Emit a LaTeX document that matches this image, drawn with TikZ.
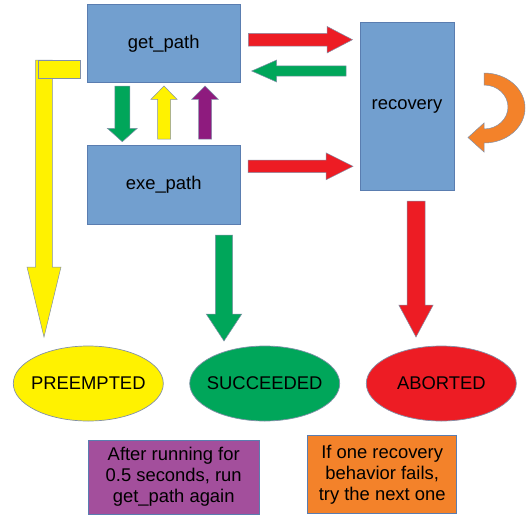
\documentclass[tikz,border=0pt]{standalone}
\usepackage{fontspec}
\setmainfont{Liberation Sans}
\usetikzlibrary{calc,shapes.geometric}

\definecolor{boxblue}{HTML}{729FCF}
\definecolor{boxedge}{HTML}{5A7DB0}
\definecolor{arrowedge}{HTML}{8290A8}
\definecolor{cred}{HTML}{ED1C24}
\definecolor{cgreen}{HTML}{00A65A}
\definecolor{cyellow}{HTML}{FFF200}
\definecolor{cpurple}{HTML}{A34F9C}
\definecolor{cmagenta}{HTML}{8E1B7E}
\definecolor{corange}{HTML}{F3822A}

% block arrow: style, tail point, tip point, shaft half width, head half width, head length
\newcommand\blockarrow[6]{%
  \coordinate (ba-n) at ($(#3)!#6!(#2)$);
  \path[#1] ($(#2)!#4!90:(#3)$) -- ($(ba-n)!#4!90:(#3)$) -- ($(ba-n)!#5!90:(#3)$)
    -- (#3) -- ($(ba-n)!#5!-90:(#3)$) -- ($(ba-n)!#4!-90:(#3)$)
    -- ($(#2)!#4!-90:(#3)$) -- cycle;}

\tikzset{
  txt/.style={font=\fontsize{18.4}{21}\selectfont},
  state/.style={txt, draw=boxedge, line width=0.7pt, fill=boxblue, rectangle,
    inner sep=0pt, outer sep=0pt},
  outcome/.style={draw=arrowedge, line width=0.7pt, ellipse, inner sep=0pt,
    outer sep=0pt, minimum width=150pt, minimum height=75pt,
    label={[txt, inner sep=0pt]center:#1}},
  note/.style={txt, draw=boxedge, line width=0.6pt, rectangle, inner sep=0pt,
    outer sep=0pt, align=center},
  barrow/.style={fill=#1, draw=arrowedge, line width=0.5pt, line join=miter},
}

\begin{document}
\begin{tikzpicture}[x=1pt, y=-1pt]
  \useasboundingbox (0,0) rectangle (532,514);

  % state boxes
  \node[state, minimum width=152.7pt, minimum height=78pt] (get) at (163.7,43.7) {get\_path};
  \node[state, minimum width=152.7pt, minimum height=78.3pt] (exe) at (163.7,184.9) {exe\_path};
  \node[state, minimum width=93.7pt, minimum height=168pt] (rec) at (407,106.7) {recovery};

  % outcomes
  \node[outcome=PREEMPTED, fill=cyellow] (pre) at (88.3,383.5) {};
  \node[outcome=SUCCEEDED, fill=cgreen] (suc) at (264.7,383.5) {};
  \node[outcome=ABORTED, fill=cred] (abo) at (441.3,383.5) {};

  % notes
  \node[note, fill=cpurple, minimum width=171.5pt, minimum height=74pt] (pnote) at (173.7,477)
    {After running for\\0.5 seconds, run\\get\_path again};
  \node[note, fill=corange, minimum width=149pt, minimum height=78pt] (onote) at (382.2,474.7)
    {If one recovery\\behavior fails,\\try the next one};

  % preemption: long arrow down the left side with its top bar
  \blockarrow{barrow=cyellow}{44,60}{44,337}{8.3pt}{17pt}{70pt}
  \path[barrow=cyellow] (38.3,60) rectangle (80.7,78.3);

  % transitions between get_path and exe_path
  \blockarrow{barrow=cgreen}{122.3,86}{122.3,141.7}{7.5pt}{15pt}{13.4pt}
  \blockarrow{barrow=cyellow}{164,139}{164,86}{6.5pt}{13pt}{13.3pt}
  \blockarrow{barrow=cmagenta}{205,139}{205,86}{6.5pt}{13.3pt}{13.3pt}

  % transitions to and from recovery
  \blockarrow{barrow=cred}{248.3,39.7}{352.5,39.7}{6.4pt}{13.3pt}{25.5pt}
  \blockarrow{barrow=cgreen}{346,71}{251.7,71}{5.2pt}{11pt}{25pt}
  \blockarrow{barrow=cred}{248,166.3}{353,166.3}{6.3pt}{13.5pt}{27pt}

  % transitions to the outcomes
  \blockarrow{barrow=cgreen}{224,235}{224,341}{8.6pt}{17.8pt}{27pt}
  \blockarrow{barrow=cred}{416,201}{416,337}{9pt}{17.2pt}{32pt}

  % recovery retries itself
  \path[barrow=corange] (484,73)
    arc[start angle=90, end angle=-90, x radius=41pt, y radius=35pt]
    -- (484,152) -- (468,137.5) -- (484,123) -- (484,129)
    arc[start angle=-90, end angle=90, x radius=24pt, y radius=22pt]
    -- cycle;
\end{tikzpicture}
\end{document}
